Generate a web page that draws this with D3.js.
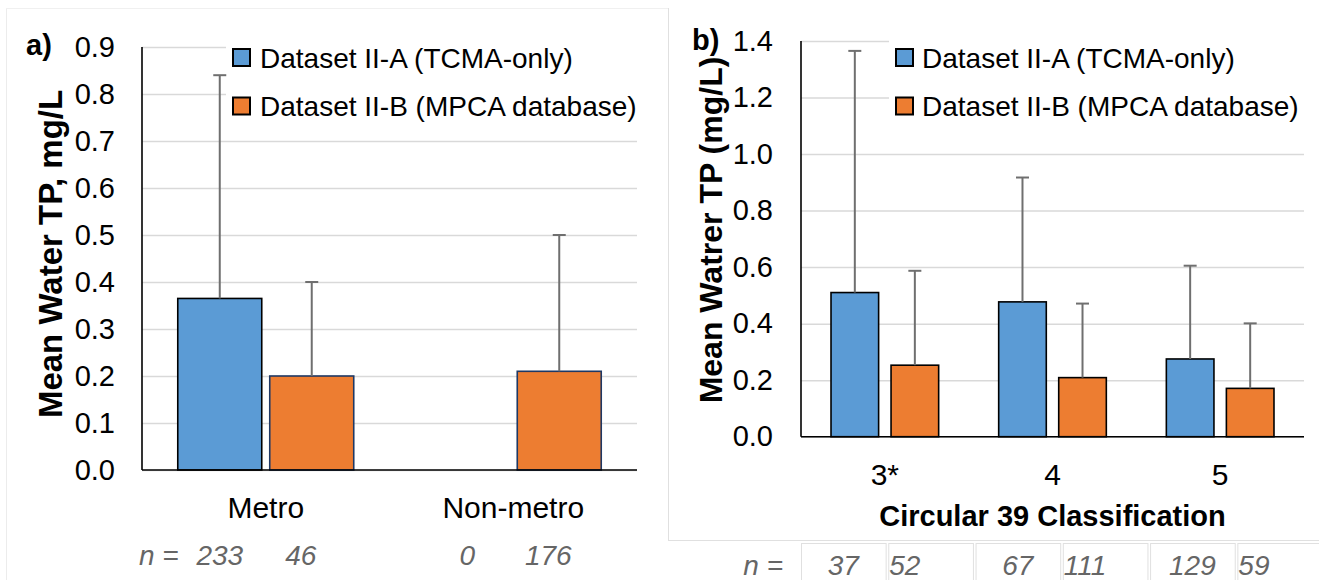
<!DOCTYPE html>
<html>
<head>
<meta charset="utf-8">
<script src="https://cdn.jsdelivr.net/npm/d3@7"></script>
<style>
  body { margin: 0; background: #fff; }
  text { font-family: "Liberation Sans", Arial, Helvetica, sans-serif; }
</style>
</head>
<body>
<script>
// series shared by both panels
var seriesKeys = ["A", "B"];
var seriesNames = ["Dataset II-A (TCMA-only)", "Dataset II-B (MPCA database)"];
var seriesColors = ["#5b9bd5", "#ed7d31"];

// panel a) metro vs non-metro
var catsA = ["Metro", "Non-metro"];
var meanA_IIA = [0.365, null];
var meanA_IIB = [0.20, 0.21];
var sdA_IIA = [0.475, null];
var sdA_IIB = [0.20, 0.29];
var nA_IIA = [233, 0];
var nA_IIB = [46, 176];
var ticksA = [0, 0.1, 0.2, 0.3, 0.4, 0.5, 0.6, 0.7, 0.8, 0.9];

// panel b) circular 39 classes
var catsB = ["3*", "4", "5"];
var meanB_IIA = [0.51, 0.477, 0.275];
var meanB_IIB = [0.253, 0.209, 0.171];
var sdB_IIA = [0.855, 0.44, 0.33];
var sdB_IIB = [0.334, 0.262, 0.23];
var nB_IIA = [37, 67, 129];
var nB_IIB = [52, 111, 59];
var ticksB = [0, 0.2, 0.4, 0.6, 0.8, 1.0, 1.2, 1.4];

// build rows {cat, key, mean, sd, n}
function makeRows(cats, means, sds, ns) {
    var out = [];
    cats.forEach(function(c, i) {
        seriesKeys.forEach(function(k, j) {
            out.push({ cat: c, key: k, idx: j, mean: means[j][i], sd: sds[j][i], n: ns[j][i] });
        });
    });
    return out;
}

var rowsA = makeRows(catsA, [meanA_IIA, meanA_IIB], [sdA_IIA, sdA_IIB], [nA_IIA, nA_IIB]);
var rowsB = makeRows(catsB, [meanB_IIA, meanB_IIB], [sdB_IIA, sdB_IIB], [nB_IIA, nB_IIB]);

var W = 1319, H = 580;
var svg = d3.select("body").append("svg")
    .attr("width", W)
    .attr("height", H);

// faint outer frames of the two chart areas
svg.append("line").attr("x1", 6.5).attr("x2", 6.5).attr("y1", 8).attr("y2", H)
    .attr("stroke", "#ececec").attr("stroke-width", 1);
svg.append("line").attr("x1", 6).attr("x2", 668).attr("y1", 8.5).attr("y2", 8.5)
    .attr("stroke", "#f0f0f0").attr("stroke-width", 1);
svg.append("line").attr("x1", 668.5).attr("x2", 668.5).attr("y1", 8).attr("y2", 540)
    .attr("stroke", "#e0e0e0").attr("stroke-width", 1);
svg.append("line").attr("x1", 668).attr("x2", W).attr("y1", 540.5).attr("y2", 540.5)
    .attr("stroke", "#e0e0e0").attr("stroke-width", 1);

function rowsFor(rows) {
    return rows.filter(function(d) { return d.mean != null; });
}

function drawPanel(o) {
    var g = svg.append("g");

    var y = d3.scaleLinear().domain([0, o.max]).range([o.bottom, o.top]);
    var x0 = d3.scaleBand().domain(o.cats).range([o.left, o.right]).padding(0);
    var bw = x0.bandwidth();
    var x1 = d3.scaleBand().domain(seriesKeys)
        .range([bw * (1 - o.group) / 2, bw * (1 + o.group) / 2])
        .paddingInner(o.inner);

    // gridlines
    var grid = g.append("g")
        .attr("transform", "translate(" + o.left + ",0)")
        .call(d3.axisLeft(y).tickValues(o.ticks).tickSize(-(o.right - o.left)).tickFormat(""));
    grid.select(".domain").remove();
    grid.selectAll("line").attr("stroke", "#d9d9d9").attr("stroke-width", 1.5);

    // tick labels
    var yAx = g.append("g")
        .attr("transform", "translate(" + o.left + ",0)")
        .call(d3.axisLeft(y).tickValues(o.ticks).tickSize(0).tickPadding(o.tickPad).tickFormat(d3.format(".1f")));
    yAx.select(".domain").remove();
    yAx.selectAll("text").attr("font-size", 29).attr("fill", "#000")
        .style("font-family", "'Liberation Sans', Arial, sans-serif");

    // legend (white box hides the top gridlines)
    g.append("rect")
        .attr("x", o.legX - 6).attr("y", o.legY - 24)
        .attr("width", o.right - o.legX + 6).attr("height", 96)
        .attr("fill", "#fff");
    var leg = g.selectAll(".leg").data(seriesNames).enter().append("g")
        .attr("transform", function(d, i) { return "translate(" + o.legX + "," + (o.legY + i * 48.5) + ")"; });
    leg.append("rect")
        .attr("x", 1).attr("y", 1).attr("width", 17).attr("height", 17)
        .attr("fill", function(d, i) { return seriesColors[i]; })
        .attr("stroke", "#000").attr("stroke-width", 2);
    leg.append("text")
        .attr("x", o.legTextDx).attr("y", 19.5)
        .attr("font-size", 28)
        .text(function(d) { return d; });

    // bars
    var bars = rowsFor(o.rows);
    g.selectAll(".bar").data(bars).enter().append("rect")
        .attr("x", function(d) { return x0(d.cat) + x1(d.key); })
        .attr("y", function(d) { return y(d.mean); })
        .attr("width", x1.bandwidth())
        .attr("height", function(d) { return y(0) - y(d.mean); })
        .attr("fill", function(d) { return seriesColors[d.idx]; })
        .attr("stroke", function(d) { return d.idx === 1 ? o.strokeB : "#000"; })
        .attr("stroke-width", 1.6);

    // error bars (upper only)
    var cx = function(d) { return x0(d.cat) + x1(d.key) + x1.bandwidth() / 2; };
    g.selectAll(".err").data(bars).enter().append("line")
        .attr("x1", cx).attr("x2", cx)
        .attr("y1", function(d) { return y(d.mean); })
        .attr("y2", function(d) { return y(d.mean + d.sd); })
        .attr("stroke", "#6f6f6f").attr("stroke-width", 2);
    g.selectAll(".cap").data(bars).enter().append("line")
        .attr("x1", function(d) { return cx(d) - 6.5; })
        .attr("x2", function(d) { return cx(d) + 6.5; })
        .attr("y1", function(d) { return y(d.mean + d.sd); })
        .attr("y2", function(d) { return y(d.mean + d.sd); })
        .attr("stroke", "#6f6f6f").attr("stroke-width", 2);

    // axis lines
    g.append("line").attr("x1", o.left).attr("x2", o.left)
        .attr("y1", y(o.max)).attr("y2", y(0))
        .attr("stroke", "#000").attr("stroke-width", 1.6);
    g.append("line").attr("x1", o.left).attr("x2", o.right)
        .attr("y1", y(0)).attr("y2", y(0))
        .attr("stroke", "#000").attr("stroke-width", 1.6);

    // category labels
    var xAx = g.append("g")
        .attr("transform", "translate(0," + y(0) + ")")
        .call(d3.axisBottom(x0).tickSize(0).tickPadding(27));
    xAx.select(".domain").remove();
    xAx.selectAll("text").attr("font-size", 30).attr("fill", "#000")
        .style("font-family", "'Liberation Sans', Arial, sans-serif");

    // panel letter
    g.append("text")
        .attr("x", o.letterX).attr("y", o.letterY)
        .attr("font-size", 29).attr("font-weight", "bold")
        .text(o.letter);

    // y title
    g.append("text")
        .attr("transform", "translate(" + o.titleX + "," + o.titleY + ") rotate(-90)")
        .attr("text-anchor", "middle")
        .attr("font-size", o.titleSize).attr("font-weight", "bold")
        .text(o.yTitle);

    return { x0: x0, x1: x1, y: y, cx: cx };
}

// ---- panel a ----
var pa = drawPanel({
    rows: rowsA, cats: catsA, ticks: ticksA, max: 0.9,
    left: 142, right: 637, top: 47, bottom: 470,
    group: 0.711, inner: 0.087, tickPad: 27,
    legX: 232, legY: 48, legTextDx: 28,
    strokeB: "#1f3864",
    letter: "a)", letterX: 26, letterY: 55,
    yTitle: "Mean Water TP, mg/L", titleX: 62, titleY: 254, titleSize: 33
});

// n row, panel a
var nRowA = svg.append("g").attr("font-size", 28).attr("font-style", "italic").attr("fill", "#666");
nRowA.append("text").attr("x", 139).attr("y", 565).text("n =");
nRowA.selectAll(".nA").data(rowsA).enter().append("text")
    .attr("text-anchor", "middle")
    .attr("x", function(d) { return pa.cx(d) - (d.idx === 1 ? 11 : 0); })
    .attr("y", 565)
    .text(function(d) { return d.n; });

// ---- panel b ----
var pb = drawPanel({
    rows: rowsB, cats: catsB, ticks: ticksB, max: 1.4,
    left: 801, right: 1304, top: 41, bottom: 436.7,
    group: 0.642, inner: 0.207, tickPad: 28,
    legX: 895, legY: 48, legTextDx: 27,
    strokeB: "#000",
    letter: "b)", letterX: 692, letterY: 50,
    yTitle: "Mean Watrer TP (mg/L)", titleX: 722, titleY: 230, titleSize: 32
});

svg.append("text")
    .attr("x", (801 + 1304) / 2).attr("y", 526)
    .attr("text-anchor", "middle")
    .attr("font-size", 29).attr("font-weight", "bold")
    .text("Circular 39 Classification");

// n table, panel b (spreadsheet-like cells under the chart)
var cellIds = d3.range(rowsB.length);
var cellX = d3.scaleBand().domain(cellIds).range([801, 1322]).paddingInner(0.03);
var tbl = svg.append("g");
tbl.selectAll(".cell").data(rowsB).enter().append("rect")
    .attr("x", function(d, i) { return cellX(i) + 0.5; })
    .attr("y", 543.5)
    .attr("width", cellX.bandwidth())
    .attr("height", 60)
    .attr("fill", "none")
    .attr("stroke", "#e0e0e0").attr("stroke-width", 1);
var nRowB = tbl.append("g").attr("font-size", 28).attr("font-style", "italic").attr("fill", "#666");
nRowB.append("text").attr("x", 783).attr("y", 575).attr("text-anchor", "end").text("n =");
nRowB.selectAll(".nB").data(rowsB).enter().append("text")
    .attr("text-anchor", function(d) { return d.idx === 0 ? "middle" : "start"; })
    .attr("x", function(d, i) { return d.idx === 0 ? cellX(i) + cellX.bandwidth() / 2 : cellX(i) + 1; })
    .attr("y", 575)
    .text(function(d) { return d.n; });
</script>
</body>
</html>
